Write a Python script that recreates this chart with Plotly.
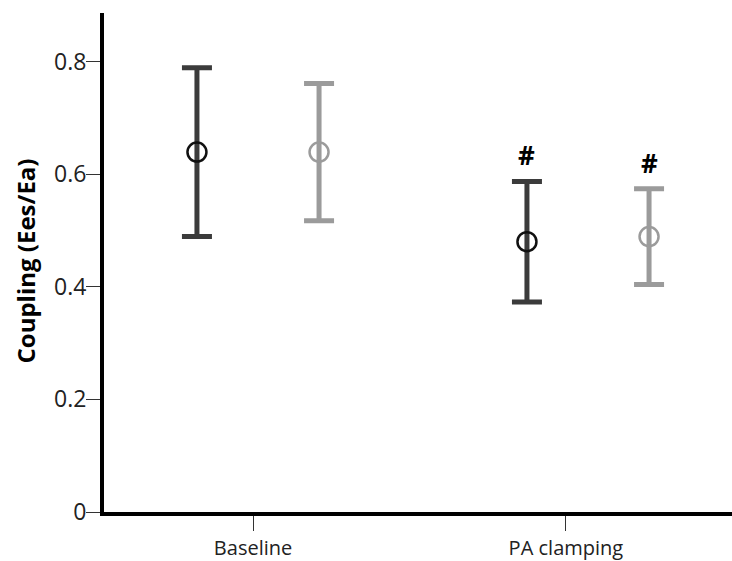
import plotly.graph_objects as go

groups = ["Baseline", "PA clamping"]
series_names = ["Group A", "Group B"]
means_a = [0.639, 0.480]
err_a = [0.150, 0.107]
means_b = [0.639, 0.489]
err_b = [0.122, 0.085]
significant_a = [False, True]
significant_b = [False, True]
y_ticks = [0, 0.2, 0.4, 0.6, 0.8]
y_tick_labels = ["0", "0.2", "0.4", "0.6", "0.8"]

# layout / style
offset = 0.185
tick_shift = [-0.015, -0.067]
dark_bar = "#3b3b3b"
dark_marker = "#111111"
light = "#9b9b9b"
font_family = "Open Sans"

idx = list(range(len(groups)))
x_a = [i - offset for i in idx]
x_b = [i + offset for i in idx]

fig = go.Figure()
for name, xs, m, e, bc, mc in [
    (series_names[0], x_a, means_a, err_a, dark_bar, dark_marker),
    (series_names[1], x_b, means_b, err_b, light, light),
]:
    fig.add_trace(go.Scatter(
        x=xs, y=m, mode="markers", name=name, showlegend=False,
        error_y=dict(type="data", array=e, visible=True, color=bc,
                     thickness=5, width=15),
        marker=dict(symbol="circle-open", size=19, color=mc,
                    line=dict(width=2.5, color=mc)),
    ))

annotations = []
for xs, m, e, sig in [(x_a, means_a, err_a, significant_a),
                      (x_b, means_b, err_b, significant_b)]:
    for xv, mv, ev, s in zip(xs, m, e, sig):
        if s:
            annotations.append(dict(
                x=xv, y=mv + ev, xref="x", yref="y", text="<b>#</b>",
                showarrow=False, yanchor="middle", yshift=26,
                font=dict(family=font_family, size=26, color="#000000")))

annotations.append(dict(
    x=0, y=0.5, xref="paper", yref="paper", text="<b>Coupling (Ees/Ea)</b>",
    showarrow=False, textangle=-90, xanchor="center", yanchor="middle",
    xshift=-79, yshift=1, font=dict(family=font_family, size=24, color="#000000")))

fig.update_layout(
    width=732, height=561,
    margin=dict(l=104, r=0, t=13, b=45),
    paper_bgcolor="white", plot_bgcolor="white",
    font=dict(family=font_family, size=20, color="#222222"),
    annotations=annotations,
    xaxis=dict(
        range=[-154 / 330, 474 / 330],
        tickvals=[i + s for i, s in zip(idx, tick_shift)],
        ticktext=groups,
        ticks="outside", ticklen=15, tickwidth=1, tickcolor="#333333",
        showgrid=False, zeroline=False,
        showline=True, linecolor="black", linewidth=4,
        tickfont=dict(size=20, color="#222222"),
    ),
    yaxis=dict(
        range=[0, 0.886],
        tickvals=y_ticks, ticktext=y_tick_labels,
        ticks="outside", ticklen=14, tickwidth=1, tickcolor="#333333",
        ticklabelstandoff=-5,
        showgrid=False, zeroline=False,
        showline=True, linecolor="black", linewidth=4,
        tickfont=dict(size=23, color="#222222"),
    ),
)

fig.write_html("out.html")
